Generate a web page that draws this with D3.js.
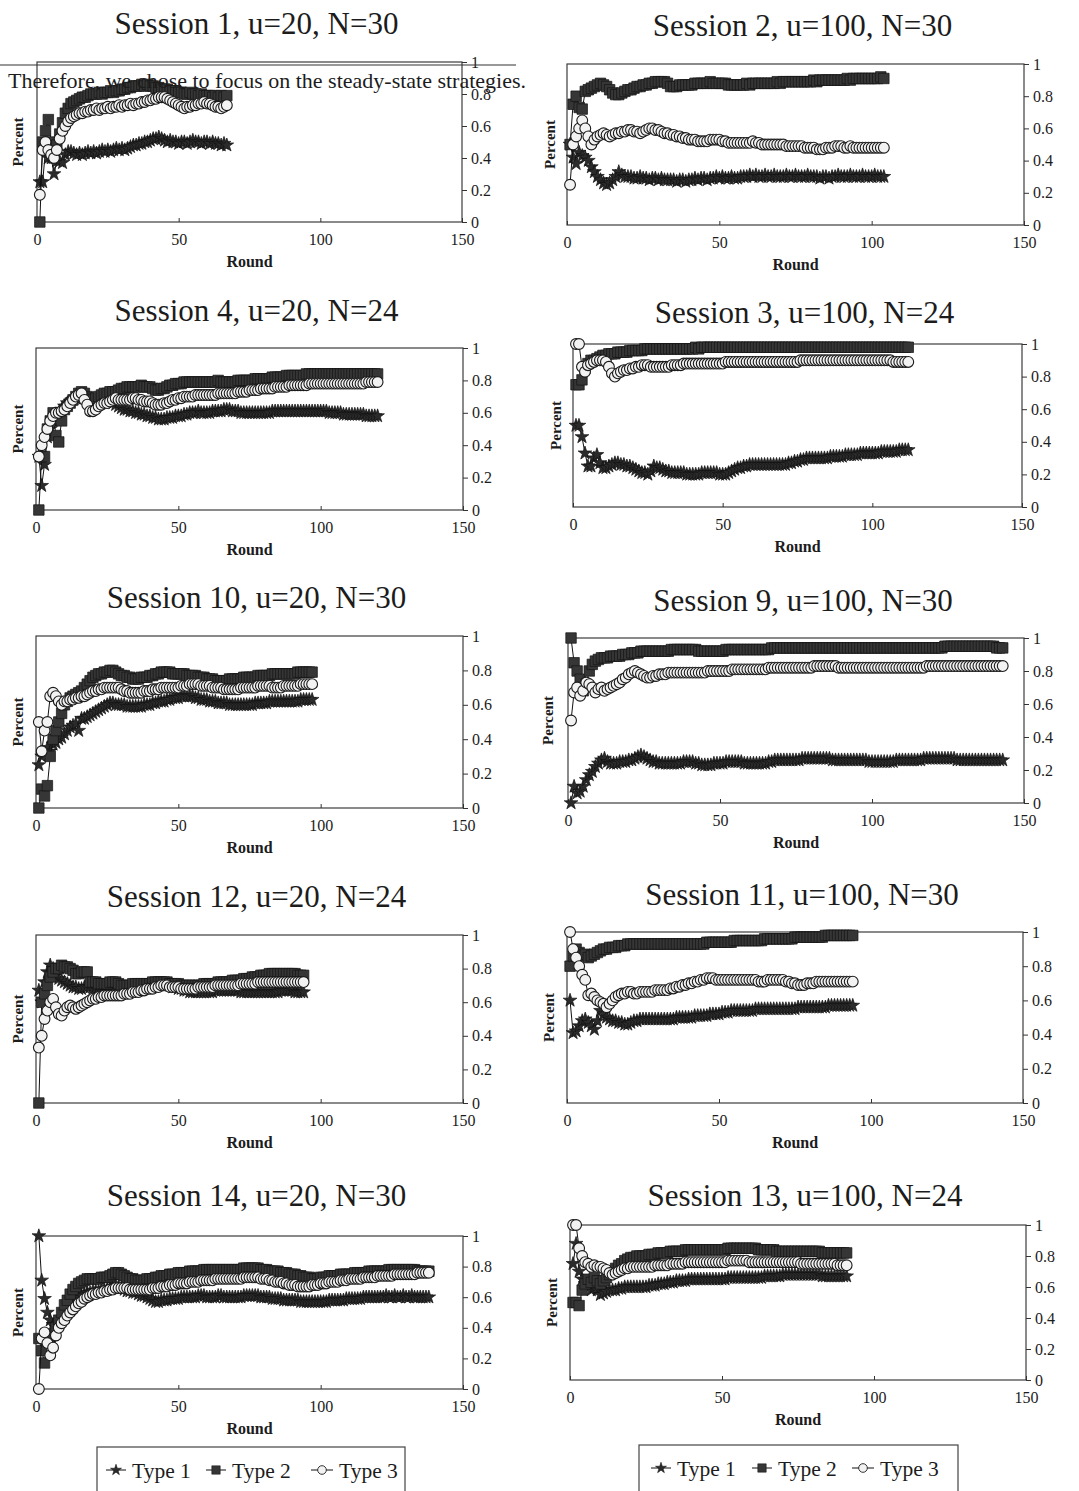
<!DOCTYPE html>
<html>
<head>
<meta charset="utf-8">
<script src="https://cdnjs.cloudflare.com/ajax/libs/d3/7.8.5/d3.min.js"></script>
<style>
    body { margin: 0; background: #fff; }
    svg text { font-family: "Liberation Serif", "Times New Roman", serif; fill: #1c1c1c; }
</style>
</head>
<body>
<svg id="chart" width="1079" height="1491"></svg>
<script>
// values are percent of players (0..100), one entry per round starting at round 1
var typeNames = ["Type 1", "Type 2", "Type 3"];
var xTicks = [0, 50, 100, 150],
    yTicks = [0, 20, 40, 60, 80, 100],
    yTickLabels = ["0", "0.2", "0.4", "0.6", "0.8", "1"];

var s1_type1 = [25,25,45,40,40,30,38,38,37,42, 44,44,43,42,43,42,43,44,43,44, 43,44,45,44,45,44,45,46,45,46, 45,46,47,48,48,49,49,50,50,51, 52,52,53,52,51,50,51,50,50,49, 50,50,49,50,51,50,50,49,50,50, 49,50,49,49,48,49,48];
var s1_type2 = [0,50,57,64,50,40,48,55,62,68, 71,74,75,76,77,78,78,79,80,80, 80,81,80,81,81,82,81,82,82,83, 83,84,84,85,85,85,86,85,86,85, 85,84,84,83,83,83,82,82,82,81, 81,80,80,81,80,80,79,80,79,79, 79,78,79,78,79,78,79];
var s1_type3 = [17,45,50,45,42,40,45,52,57,60, 63,65,66,67,68,68,69,69,70,70, 71,70,71,71,72,71,72,72,73,72, 73,73,74,73,74,74,75,75,76,76, 77,77,78,78,78,77,76,75,74,73, 72,71,72,72,73,73,74,74,75,74, 74,73,72,72,71,72,73];

var s2_type1 = [50,42,38,45,43,42,40,36,33,30, 28,26,25,26,28,30,33,31,30,30, 30,29,29,30,29,29,28,29,29,28, 29,28,28,28,28,27,28,28,27,28, 28,29,28,29,29,28,29,29,30,29, 30,29,29,30,29,29,30,30,30,31, 30,31,30,30,31,30,30,31,30,30, 30,31,30,30,31,30,30,30,31,30, 30,30,29,30,30,29,30,30,31,30, 30,30,31,30,30,30,31,30,30,30, 31,30,30,30];
var s2_type2 = [50,75,80,73,72,83,84,85,86,87, 88,87,86,84,82,81,81,82,83,84, 84,85,86,86,87,87,88,88,89,89, 89,89,88,86,86,86,87,87,87,87, 87,88,88,88,88,88,89,88,88,88, 88,88,87,87,87,87,87,87,88,87, 88,88,88,88,88,88,88,88,89,88, 89,89,89,89,89,89,89,89,89,89, 90,89,90,90,90,90,90,90,90,90, 90,91,90,91,91,91,91,91,91,91, 91,91,92,91];
var s2_type3 = [25,50,55,60,65,60,55,50,53,55, 56,57,56,55,56,57,57,58,58,59, 59,58,58,57,58,59,60,60,59,59, 58,57,57,56,56,55,55,54,54,53, 53,53,52,52,52,52,53,53,53,53, 52,52,51,51,51,51,51,51,51,51, 52,51,51,50,50,50,50,50,50,50, 50,49,49,49,49,49,49,48,48,48, 48,47,47,47,48,48,48,49,49,49, 48,48,49,48,48,48,48,48,48,48, 48,48,48,48];

var s4_type1 = [33,15,28,45,50,55,58,60,62,64, 66,67,68,69,70,70,69,68,67,66, 66,67,68,68,68,67,66,65,64,63, 62,62,61,61,60,60,59,59,58,58, 57,57,56,56,56,57,57,57,58,58, 58,59,59,60,60,60,61,60,60,60, 60,61,61,61,61,62,62,62,61,61, 61,60,60,60,60,60,60,60,60,60, 60,60,61,61,61,61,61,61,61,61, 61,61,61,61,61,61,61,61,61,61, 61,61,60,60,60,60,60,59,59,59, 59,59,59,59,59,58,58,58,58,58];
var s4_type2 = [0,33,33,50,55,60,46,42,55,62, 64,66,68,70,72,73,72,70,69,68, 69,70,71,72,72,73,73,73,74,75, 75,76,76,76,76,76,77,76,76,76, 75,74,74,75,75,76,77,77,78,78, 78,79,79,79,79,79,79,79,79,79, 79,79,79,80,79,79,79,79,79,79, 80,80,80,80,80,80,81,81,81,81, 81,81,82,82,82,82,82,83,83,83, 83,83,83,83,84,84,84,84,84,84, 84,84,84,84,84,84,84,84,84,84, 84,84,84,84,84,84,84,84,84,84];
var s4_type3 = [33,40,45,50,55,58,60,60,61,62, 64,66,68,70,71,72,68,65,61,61, 62,64,65,66,66,67,68,69,68,68, 68,68,68,69,69,68,68,67,67,67, 66,65,65,65,66,66,67,68,68,69, 69,70,70,70,70,71,71,71,71,71, 71,71,71,72,72,72,72,72,72,72, 73,73,73,73,74,74,74,74,75,75, 75,75,75,76,76,76,76,76,77,77, 77,77,77,77,77,78,78,78,78,78, 78,78,78,78,78,78,78,78,78,78, 78,78,78,78,78,79,79,79,79,79];

var s3_type1 = [50,50,43,33,25,25,30,32,27,24, 24,25,26,27,27,26,26,25,25,24, 23,22,21,21,20,22,25,24,24,23, 22,22,21,21,21,21,21,20,20,20, 20,20,21,21,21,21,21,21,20,20, 20,21,22,23,24,24,25,25,26,26, 26,26,26,26,26,26,26,26,26,26, 26,27,27,28,28,29,29,30,30,30, 30,30,30,30,30,31,31,31,31,31, 32,32,32,32,32,33,33,33,33,33, 33,33,34,34,34,34,34,34,35,35, 35,35];
var s3_type2 = [75,75,78,85,88,90,90,91,92,93, 93,94,94,94,95,95,95,95,96,96, 96,96,96,97,97,97,97,97,97,97, 97,97,97,97,97,97,97,97,97,97, 98,97,98,98,98,98,98,98,98,98, 98,98,98,98,98,98,98,98,98,98, 98,98,98,98,98,98,98,98,98,98, 98,98,98,98,98,98,98,98,98,98, 98,98,98,98,98,98,98,98,98,98, 98,98,98,98,98,98,98,98,98,98, 98,98,98,98,98,98,98,98,98,98, 98,98];
var s3_type3 = [100,100,86,83,87,88,89,90,90,90, 89,86,82,80,82,83,84,84,85,85, 86,86,87,87,87,86,86,86,86,86, 86,86,87,87,87,87,88,88,88,88, 88,88,88,88,88,88,88,88,88,88, 89,89,89,89,89,89,89,89,89,89, 89,89,89,89,89,89,89,89,89,89, 89,89,89,89,89,90,90,90,90,90, 90,90,90,90,90,90,90,90,90,90, 90,90,90,90,90,90,90,90,90,90, 90,90,90,90,90,90,89,89,89,89, 89,89];

var s10_type1 = [25,30,32,35,33,37,38,40,41,43, 45,47,48,49,45,52,52,53,54,55, 56,57,58,59,60,61,61,60,60,60, 60,59,59,59,59,59,59,60,60,60, 61,61,62,62,62,63,63,64,64,64, 65,65,65,65,65,64,64,63,63,63, 62,62,62,61,61,61,61,60,60,60, 60,60,60,60,60,60,61,61,61,61, 61,62,62,62,62,62,62,62,62,62, 62,62,63,63,63,63,63];
var s10_type2 = [0,11,7,13,30,40,45,50,55,60, 62,64,65,66,67,68,70,72,74,76, 77,78,78,79,79,80,80,79,78,77, 77,76,76,75,75,75,76,76,76,77, 77,78,78,79,79,79,79,78,78,78, 78,78,77,77,77,77,76,76,76,75, 75,75,74,74,74,74,74,75,75,75, 75,75,76,76,76,76,76,77,77,77, 77,77,78,78,78,78,78,78,78,78, 78,79,79,79,79,79,79];
var s10_type3 = [50,33,45,50,65,67,65,62,60,62, 62,63,63,64,64,65,65,66,67,68, 68,69,69,70,70,70,70,70,70,69, 68,68,67,67,67,67,67,68,68,68, 69,69,69,70,70,70,70,70,70,70, 71,71,71,72,72,72,72,71,71,71, 71,70,70,70,70,69,69,69,69,69, 69,70,70,70,70,70,70,71,71,71, 71,71,70,70,70,70,71,71,71,71, 71,71,72,72,72,72,72];

var s9_type1 = [0,10,6,7,10,14,17,19,22,24, 26,27,25,24,24,24,25,25,25,26, 26,27,28,29,28,27,26,25,25,24, 24,24,24,24,24,24,24,25,25,25, 25,24,24,23,23,23,23,24,24,24, 24,25,25,25,25,25,25,24,24,24, 24,24,24,24,24,25,25,26,26,26, 26,26,26,26,26,26,27,27,27,27, 27,27,27,27,27,27,26,26,26,26, 26,26,26,26,26,26,26,26,25,25, 25,25,25,25,25,25,25,26,26,26, 26,26,26,26,26,26,27,27,27,27, 27,27,27,27,27,27,27,26,26,26, 26,26,26,26,26,26,26,26,26,26, 26,26,26];
var s9_type2 = [100,85,80,75,68,72,80,84,86,87, 88,88,88,89,89,89,89,90,90,90, 91,91,91,92,92,92,92,92,92,92, 92,92,92,93,93,93,93,93,93,93, 93,93,92,92,92,92,92,92,92,92, 92,93,93,93,93,93,93,93,93,93, 93,93,93,93,93,93,94,94,94,94, 94,94,94,94,94,94,94,94,94,94, 94,94,94,94,94,94,94,94,94,94, 94,94,94,94,94,94,94,94,94,94, 94,94,94,94,94,94,94,94,94,94, 94,94,94,94,94,94,94,94,94,94, 94,94,94,95,95,95,95,95,95,95, 95,95,95,95,95,95,95,95,95,95, 94,94,94];
var s9_type3 = [50,67,70,65,68,73,72,70,67,69, 70,68,69,70,71,72,73,75,76,78, 79,80,79,78,77,76,76,77,77,78, 78,78,79,79,79,79,79,79,79,79, 79,79,79,79,79,80,80,80,80,80, 80,80,80,81,81,81,81,81,81,81, 81,81,81,81,81,82,82,82,82,82, 82,82,82,82,82,82,82,82,82,82, 83,83,83,83,83,83,83,83,82,82, 82,82,82,82,82,82,82,82,82,82, 82,82,82,82,82,82,82,82,82,82, 82,82,82,82,82,82,82,83,83,83, 83,83,83,83,83,83,83,83,83,83, 83,83,83,83,83,83,83,83,83,83, 83,83,83];

var s12_type1 = [67,60,72,78,82,80,76,74,73,72, 71,70,69,69,68,68,69,69,69,68, 68,68,67,67,67,66,66,65,65,65, 66,66,67,67,68,68,69,69,70,70, 70,71,71,71,71,70,70,69,69,68, 68,67,67,66,66,66,66,66,66,66, 66,66,67,67,67,67,67,67,67,67, 67,66,66,66,66,66,66,66,66,66, 66,66,66,66,66,67,67,67,67,67, 66,66,66,66];
var s12_type2 = [0,60,65,70,75,78,80,80,82,81, 81,80,79,77,77,78,78,78,72,72, 72,71,71,71,71,72,72,72,71,70, 70,70,70,71,71,71,71,71,71,71, 72,72,72,72,72,72,71,71,71,71, 70,70,70,70,70,70,70,70,71,71, 71,71,71,72,72,72,72,72,73,73, 73,73,74,74,74,75,75,75,76,76, 76,77,77,77,77,77,77,77,77,77, 77,76,76,76];
var s12_type3 = [33,40,50,55,60,62,57,53,52,55, 57,58,57,56,57,58,59,60,61,62, 62,63,63,64,64,64,64,64,64,64, 65,65,65,66,66,66,67,67,68,68, 68,69,69,70,70,70,69,69,69,69, 68,68,68,68,68,68,69,69,69,69, 69,69,70,70,70,70,70,70,70,70, 70,71,71,71,71,71,71,72,72,72, 72,72,72,72,72,72,72,72,72,72, 72,72,72,72];

var s11_type1 = [60,41,42,45,48,49,47,45,43,48, 54,52,50,49,48,48,47,47,46,46, 47,48,48,49,49,49,49,49,49,49, 49,49,49,49,49,50,50,50,50,50, 50,51,51,51,51,51,52,52,52,52, 53,53,53,54,54,54,54,54,54,54, 54,55,55,55,55,55,55,55,55,55, 55,55,55,55,55,56,56,56,56,56, 56,56,56,56,56,57,57,57,57,57, 57,57,57,57];
var s11_type2 = [80,86,90,88,86,87,85,86,87,88, 89,90,90,91,91,91,92,92,92,93, 93,93,93,93,93,93,93,93,93,93, 93,93,93,93,93,93,93,93,93,93, 93,93,93,93,93,94,94,94,94,94, 94,94,94,94,95,95,95,95,95,95, 95,95,95,95,96,96,96,96,96,96, 96,96,96,96,97,97,97,97,97,97, 97,97,97,97,98,98,98,98,98,98, 98,98,98,98];
var s11_type3 = [100,90,85,80,75,72,63,64,62,60, 59,58,56,58,60,62,63,64,64,65, 65,64,64,65,65,65,65,65,66,66, 66,66,66,67,67,68,68,69,69,70, 70,71,71,72,72,73,73,73,72,72, 72,72,72,72,72,72,72,72,72,72, 72,72,71,71,71,72,72,72,72,72, 72,71,71,70,70,69,69,69,70,70, 70,71,71,71,71,71,71,71,71,71, 71,71,71,71];

var s14_type1 = [100,71,59,50,45,42,40,43,45,48, 52,55,57,59,60,61,62,63,63,64, 64,64,65,65,65,66,67,68,67,66, 65,64,64,63,63,62,61,61,60,59, 58,57,57,58,58,58,59,59,59,59, 60,60,60,60,60,60,61,61,61,60, 60,60,60,61,61,60,60,60,60,60, 60,60,61,61,61,61,61,61,60,60, 60,60,59,59,59,59,58,58,58,58, 58,58,57,57,57,57,57,57,57,57, 57,57,58,58,58,58,58,58,59,59, 59,59,59,59,60,60,60,60,60,60, 60,60,61,60,60,61,60,60,61,60, 60,61,60,60,60,60,60,60];
var s14_type2 = [33,25,17,32,30,35,40,45,50,55, 58,62,65,67,69,70,71,72,72,72, 72,72,73,73,73,74,75,76,76,75, 74,73,72,72,71,71,71,71,72,72, 72,73,73,74,74,74,75,75,75,76, 76,76,76,77,77,77,77,77,78,78, 78,78,78,78,78,78,78,78,78,78, 78,78,79,79,79,79,79,79,78,78, 78,77,77,77,77,76,76,76,75,75, 75,74,74,73,73,73,72,72,72,73, 73,73,74,74,74,74,75,75,75,75, 75,76,76,76,76,76,77,77,77,77, 77,77,77,78,78,78,78,78,78,78, 78,78,78,77,77,77,77,77];
var s14_type3 = [0,33,37,30,22,27,35,40,43,45, 48,50,52,54,56,57,59,60,61,62, 62,63,63,64,64,65,65,66,66,66, 66,66,65,65,65,65,65,65,65,65, 66,66,66,67,67,67,68,68,68,69, 69,69,69,70,70,70,70,71,71,71, 71,71,72,72,72,72,72,72,72,72, 72,72,73,73,73,73,73,73,72,72, 72,71,71,70,70,70,69,69,68,68, 68,67,67,67,67,67,68,68,68,69, 69,69,70,70,70,70,71,71,71,72, 72,72,72,72,73,73,73,73,73,74, 74,74,74,74,74,75,75,75,75,75, 75,75,75,76,76,76,76,76];

var s13_type1 = [75,88,70,65,62,60,58,60,58,55, 56,57,58,58,58,59,59,60,60,60, 60,60,60,60,60,61,61,61,62,62, 62,63,63,63,64,64,64,64,65,65, 65,65,65,65,65,65,65,65,65,65, 65,66,66,66,66,66,66,66,66,66, 66,66,66,67,67,67,67,67,67,68, 68,68,68,68,68,68,68,68,68,68, 68,68,67,67,67,67,67,67,67,67, 67];
var s13_type2 = [50,50,48,58,62,65,63,66,64,62, 64,66,68,70,72,74,75,77,78,79, 79,80,80,80,80,81,81,81,82,82, 82,82,83,83,83,83,83,84,84,84, 84,84,84,84,84,84,84,84,84,84, 84,85,85,85,85,85,85,85,85,85, 85,84,84,84,84,84,84,83,83,83, 83,83,83,83,83,83,83,83,83,83, 83,83,82,82,82,82,82,82,82,82, 82];
var s13_type3 = [100,100,85,80,76,75,73,74,73,73, 72,71,69,68,69,70,71,72,72,73, 73,73,73,73,73,73,73,74,74,74, 74,74,75,75,75,75,75,76,76,76, 76,76,76,76,76,76,76,76,76,76, 76,77,77,77,77,77,77,77,76,76, 76,76,76,76,76,76,76,76,76,76, 76,76,76,76,76,75,75,75,75,75, 75,75,75,75,75,75,75,74,74,74, 74];

var titles = ["Session 1, u=20, N=30", "Session 2, u=100, N=30",
              "Session 4, u=20, N=24", "Session 3, u=100, N=24",
              "Session 10, u=20, N=30", "Session 9, u=100, N=30",
              "Session 12, u=20, N=24", "Session 11, u=100, N=30",
              "Session 14, u=20, N=30", "Session 13, u=100, N=24"];

var panel_series = [
    [s1_type1, s1_type2, s1_type3], [s2_type1, s2_type2, s2_type3],
    [s4_type1, s4_type2, s4_type3], [s3_type1, s3_type2, s3_type3],
    [s10_type1, s10_type2, s10_type3], [s9_type1, s9_type2, s9_type3],
    [s12_type1, s12_type2, s12_type3], [s11_type1, s11_type2, s11_type3],
    [s14_type1, s14_type2, s14_type3], [s13_type1, s13_type2, s13_type3]
];

// plot box of every panel on the page: left, right, top, bottom, title baseline, "Percent" x
var layout = [
    {l: 37, r: 462, t: 62, b: 222, ty: 34, px: 18},
    {l: 567, r: 1024, t: 64, b: 225, ty: 36, px: 550},
    {l: 36, r: 463, t: 348, b: 510, ty: 321, px: 18},
    {l: 573, r: 1022, t: 344, b: 507, ty: 323, px: 556},
    {l: 36, r: 463, t: 636, b: 808, ty: 608, px: 18},
    {l: 568, r: 1024, t: 638, b: 803, ty: 611, px: 548},
    {l: 36, r: 463, t: 935, b: 1103, ty: 907, px: 18},
    {l: 567, r: 1023, t: 932, b: 1103, ty: 905, px: 549},
    {l: 36, r: 463, t: 1236, b: 1389, ty: 1206, px: 18},
    {l: 570, r: 1026, t: 1225, b: 1380, ty: 1206, px: 552}
];

var legend_layout = [
    {x: 97, w: 308, y: 1447, items: [106, 206, 311]},
    {x: 639, w: 319, y: 1445, items: [651, 752, 852]}
];

var svg = d3.select("#chart");

var star = d3.symbol().type(d3.symbolStar).size(58),
    square = d3.symbol().type(d3.symbolSquare).size(110);

function add_marker(sel, type) {
    if (type == 0) {
        sel.append("path").attr("d", star).attr("fill", "#2b2b2b").attr("stroke", "#111").attr("stroke-width", 0.7);
    } else if (type == 1) {
        sel.append("path").attr("d", square).attr("fill", "#363636").attr("stroke", "#141414").attr("stroke-width", 0.7);
    } else {
        sel.append("circle").attr("r", 5.4).attr("fill", "#f2f2f2").attr("stroke", "#1a1a1a").attr("stroke-width", 1.1);
    }
}

function draw_panel(series, box, title) {

    var x = d3.scaleLinear().domain([0, 150]).range([box.l, box.r]),
        y = d3.scaleLinear().domain([0, 100]).range([box.b, box.t]);

    var g = svg.append("g");

    g.append("text")
        .attr("x", (box.l + box.r) / 2 + 7)
        .attr("y", box.ty)
        .attr("text-anchor", "middle")
        .style("font-size", "31px")
        .text(title);

    g.append("rect")
        .attr("x", box.l).attr("y", box.t)
        .attr("width", box.r - box.l).attr("height", box.b - box.t)
        .attr("fill", "none").attr("stroke", "#3c3c3c").attr("stroke-width", 1.2);

    var xAxis = g.append("g")
        .attr("transform", "translate(0," + box.b + ")")
        .call(d3.axisBottom(x).tickValues(xTicks).tickSize(-4).tickPadding(12));
    xAxis.select(".domain").remove();
    xAxis.selectAll("line").attr("stroke", "#333");
    xAxis.selectAll("text").style("font-size", "16px").attr("fill", "#1c1c1c");

    var yAxis = g.append("g")
        .attr("transform", "translate(" + box.r + ",0)")
        .call(d3.axisRight(y).tickValues(yTicks).tickSize(5).tickPadding(4)
            .tickFormat(function (d, i) { return yTickLabels[i]; }));
    yAxis.select(".domain").remove();
    yAxis.selectAll("line").attr("stroke", "#333");
    yAxis.selectAll("text").style("font-size", "16px").attr("fill", "#1c1c1c");

    g.append("text")
        .attr("x", (box.l + box.r) / 2)
        .attr("y", box.b + 45)
        .attr("text-anchor", "middle")
        .style("font-size", "16px").style("font-weight", "bold")
        .text("Round");

    g.append("text")
        .attr("transform", "translate(" + (box.px + 5) + "," + ((box.t + box.b) / 2) + ") rotate(-90)")
        .attr("text-anchor", "middle")
        .style("font-size", "15px").style("font-weight", "bold")
        .text("Percent");

    var line = d3.line()
        .x(function (d, i) { return x(i + 1); })
        .y(function (d) { return y(d); });

    series.forEach(function (values, k) {
        g.append("path")
            .attr("d", line(values))
            .attr("fill", "none").attr("stroke", "#111").attr("stroke-width", 1);

        var marks = g.append("g").selectAll("g")
            .data(values)
            .enter().append("g")
            .attr("transform", function (d, i) { return "translate(" + x(i + 1) + "," + y(d) + ")"; });
        add_marker(marks, k);
    });
}

panel_series.forEach(function (series, i) {
    draw_panel(series, layout[i], titles[i]);
});

// legends under the two columns
legend_layout.forEach(function (lg) {
    var g = svg.append("g");
    g.append("rect")
        .attr("x", lg.x).attr("y", lg.y)
        .attr("width", lg.w).attr("height", 60)
        .attr("fill", "none").attr("stroke", "#444").attr("stroke-width", 1.2);

    typeNames.forEach(function (name, k) {
        var sx = lg.items[k],
            len = k == 2 ? 22 : 20,
            cy = lg.y + 23;
        g.append("line")
            .attr("x1", sx).attr("x2", sx + len)
            .attr("y1", cy).attr("y2", cy)
            .attr("stroke", "#111").attr("stroke-width", 1);
        var m = g.append("g").attr("transform", "translate(" + (sx + len / 2) + "," + cy + ") scale(0.8)");
        add_marker(m, k);
        g.append("text")
            .attr("x", sx + len + 6)
            .attr("y", cy + 8)
            .style("font-size", "21.5px")
            .text(name);
    });
});

// stray text line from the scanned page overlapping the first panel
svg.append("line")
    .attr("x1", 0).attr("x2", 516)
    .attr("y1", 65).attr("y2", 65)
    .attr("stroke", "#333").attr("stroke-width", 1.2);
svg.append("text")
    .attr("x", 8).attr("y", 88)
    .style("font-size", "22px")
    .text("Therefore, we chose to focus on the steady-state strategies.");
</script>
</body>
</html>
